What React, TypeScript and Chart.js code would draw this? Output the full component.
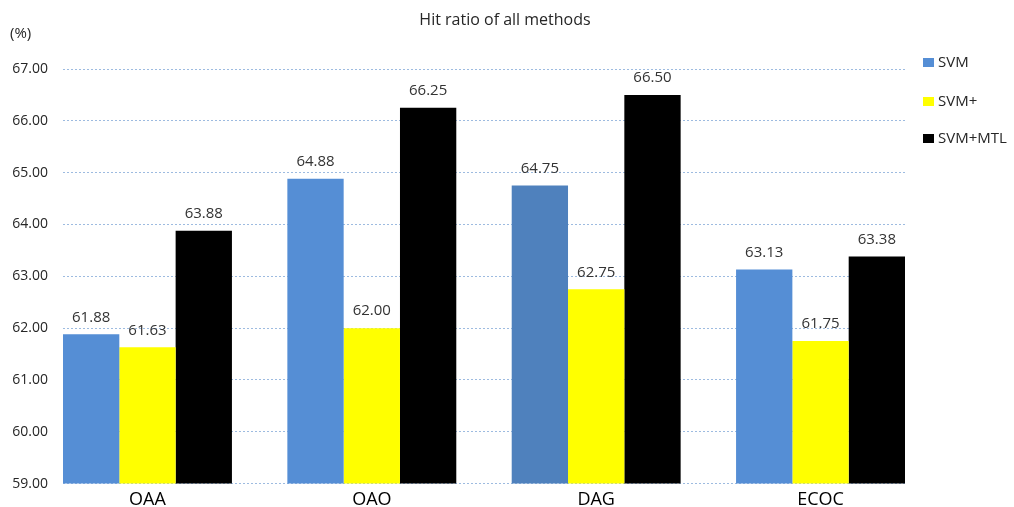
import React, { useEffect, useRef } from "react";
import { Chart, registerables } from "chart.js";

Chart.register(...registerables);

const categories = ["OAA", "OAO", "DAG", "ECOC"];
const seriesNames = ["SVM", "SVM+", "SVM+MTL"];
const svmValues = [61.88, 64.88, 64.75, 63.13];
const svmPlusValues = [61.63, 62.0, 62.75, 61.75];
const svmMtlValues = [63.88, 66.25, 66.5, 63.38];
const svmColors = ["#558ED5", "#558ED5", "#4F81BD", "#558ED5"];
const yTicks = [59, 60, 61, 62, 63, 64, 65, 66, 67];
const titleText = "Hit ratio of all methods";
const yUnit = "(%)";

const FONT = "'Open Sans', 'Liberation Sans', sans-serif";

const textPlugin = {
  id: "textPlugin",
  afterDatasetsDraw(chart: any) {
    const ctx = chart.ctx;
    ctx.save();
    // value labels
    ctx.font = `15px ${FONT}`;
    ctx.fillStyle = "#333333";
    ctx.textAlign = "center";
    ctx.textBaseline = "middle";
    chart.data.datasets.forEach((ds: any, di: number) => {
      const meta = chart.getDatasetMeta(di);
      meta.data.forEach((bar: any, i: number) => {
        const v = ds.data[i].y;
        ctx.fillText(v.toFixed(2), bar.x, bar.y - 17);
      });
    });
    // title
    ctx.font = `16px ${FONT}`;
    ctx.fillStyle = "#262626";
    ctx.fillText(titleText, 505, 20);
    // unit
    ctx.font = `15px ${FONT}`;
    ctx.textAlign = "left";
    ctx.fillText(yUnit, 10, 34);
    // legend
    const ys = [62.5, 101.5, 138.5];
    chart.data.datasets.forEach((ds: any, di: number) => {
      const c = Array.isArray(ds.backgroundColor) ? ds.backgroundColor[0] : ds.backgroundColor;
      ctx.fillStyle = c;
      ctx.fillRect(923, ys[di] - 4.5, 11, 9);
      ctx.fillStyle = "#262626";
      ctx.font = `15px ${FONT}`;
      ctx.textAlign = "left";
      ctx.fillText(ds.label, 938, ys[di]);
    });
    ctx.restore();
  },
};

export default function App() {
  const ref = useRef<HTMLCanvasElement>(null);
  useEffect(() => {
    if (!ref.current) return;
    const toXY = (arr: number[]) => arr.map((y, i) => ({ x: i, y }));
    const chart = new Chart(ref.current, {
      type: "bar",
      data: {
        datasets: [
          { label: seriesNames[0], data: toXY(svmValues), backgroundColor: svmColors },
          { label: seriesNames[1], data: toXY(svmPlusValues), backgroundColor: "#FFFF00" },
          { label: seriesNames[2], data: toXY(svmMtlValues), backgroundColor: "#000000" },
        ] as any,
      },
      options: {
        responsive: false,
        animation: false,
        events: [],
        layout: { padding: { left: 0, right: 109, top: 69, bottom: 0 } },
        datasets: { bar: { categoryPercentage: 0.753, barPercentage: 1 } } as any,
        plugins: { legend: { display: false }, title: { display: false }, tooltip: { enabled: false } },
        scales: {
          x: {
            type: "linear",
            offset: false,
            min: -0.3765,
            max: 3.3765,
            grid: { display: false, drawTicks: false, offset: false },
            border: { display: false },
            afterBuildTicks: (scale: any) => {
              scale.ticks = categories.map((_, i) => ({ value: i }));
            },
            afterFit: (scale: any) => {
              scale.height = 23;
            },
            ticks: {
              autoSkip: false,
              maxRotation: 0,
              padding: 5,
              color: "#000000",
              font: { family: FONT, size: 18 },
              callback: (v: any) => categories[v] ?? "",
            },
          } as any,
          y: {
            min: yTicks[0],
            max: yTicks[yTicks.length - 1],
            afterBuildTicks: (scale: any) => {
              scale.ticks = yTicks.map((v) => ({ value: v }));
            },
            afterFit: (scale: any) => {
              scale.width = 63;
            },
            grid: { color: "#9DBBE0", lineWidth: 1, drawTicks: false },
            border: { display: false, dash: [2, 2] },
            ticks: {
              padding: 15,
              color: "#262626",
              font: { family: FONT, size: 14 },
              callback: (v: any) => Number(v).toFixed(2),
            },
          } as any,
        },
      },
      plugins: [textPlugin],
    });
    return () => chart.destroy();
  }, []);
  return (
    <div style={{ position: "fixed", left: 0, top: 0, width: 1014, height: 507, background: "#fff" }}>
      <canvas ref={ref} width={1014} height={507} />
    </div>
  );
}
